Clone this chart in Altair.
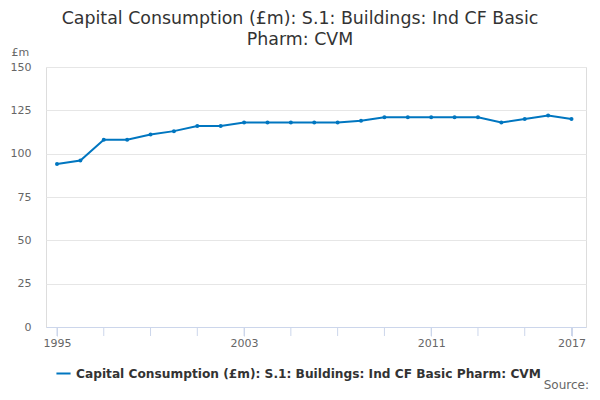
import altair as alt
import pandas as pd

years = list(range(1995, 2018))
values = [94, 96, 108, 108, 111, 113, 116, 116, 118, 118, 118, 118, 118, 119,
          121, 121, 121, 121, 121, 118, 120, 122, 120]
series_name = "Capital Consumption (£m): S.1: Buildings: Ind CF Basic Pharm: CVM"
title_lines = ["Capital Consumption (£m): S.1: Buildings: Ind CF Basic", "Pharm: CVM"]
tick_years = list(range(1995, 2018, 2))
label_years = [1995, 2003, 2011, 2017]
y_ticks = [0, 25, 50, 75, 100, 125, 150]

df = pd.DataFrame({"year": years, "value": values, "series": [series_name] * len(years)})

FONT = "DejaVu Sans"
BLUE = "#0076c0"

xscale = alt.Scale(domain=[1994.53, 2017.62], nice=False, zero=False)
yscale = alt.Scale(domain=[0, 150], nice=False)

base = alt.Chart(df)

line = base.mark_line(strokeWidth=2, point=alt.OverlayMarkDef(size=16, filled=True)).encode(
    x=alt.X("year:Q", scale=xscale,
            axis=alt.Axis(values=label_years, format="d", title=None, grid=False,
                          domainColor="#ccd6eb", tickColor="#ccd6eb", tickSize=9,
                          labelFontSize=11, labelColor="#666666", labelFont=FONT,
                          labelPadding=1, labelFlush=False, labelOverlap=False)),
    y=alt.Y("value:Q", scale=yscale,
            axis=alt.Axis(values=y_ticks, title="£m", titleAngle=0, titleAlign="left",
                          titleX=-35, titleY=-15, titleBaseline="middle",
                          titleFontSize=11, titleColor="#666666", titleFontWeight="normal",
                          titleFont=FONT,
                          domain=False, ticks=False, gridColor="#e6e6e6",
                          labelFontSize=11, labelColor="#666666", labelFont=FONT,
                          labelPadding=15)),
    color=alt.Color("series:N", scale=alt.Scale(range=[BLUE]),
                    legend=alt.Legend(title=None, orient="none", legendX=9, legendY=298,
                                      symbolType="stroke", symbolStrokeWidth=2, symbolSize=200,
                                      labelFontSize=12.2, labelFontWeight="bold",
                                      labelColor="#333333", labelFont=FONT, labelLimit=600)),
)

# tick marks every 2 years (no labels)
tick_df = pd.DataFrame({"year": tick_years})
ticks = alt.Chart(tick_df).mark_rule(color="#ccd6eb", strokeWidth=1).encode(
    x=alt.X("year:Q", scale=xscale),
    y=alt.value(260), y2=alt.value(269),
)

source = alt.Chart(pd.DataFrame({"t": ["Source:"]})).mark_text(
    align="right", baseline="alphabetic", fontSize=12, color="#666666", font=FONT
).encode(text="t:N", x=alt.value(543), y=alt.value(322))

chart = alt.layer(ticks, line, source).properties(
    width=540, height=260,
    title=alt.TitleParams(text=title_lines, fontSize=17.4, fontWeight="normal", color="#333333",
                          font=FONT, anchor="middle", dx=-16, dy=16, offset=14, lineHeight=21),
    autosize=alt.AutoSizeParams(type="none"),
    padding={"left": 38, "top": 59, "right": 6, "bottom": 65},
).configure_view(stroke=None).configure(background="white")

chart.save("out.html", embed_options={"renderer": "svg", "actions": False})
